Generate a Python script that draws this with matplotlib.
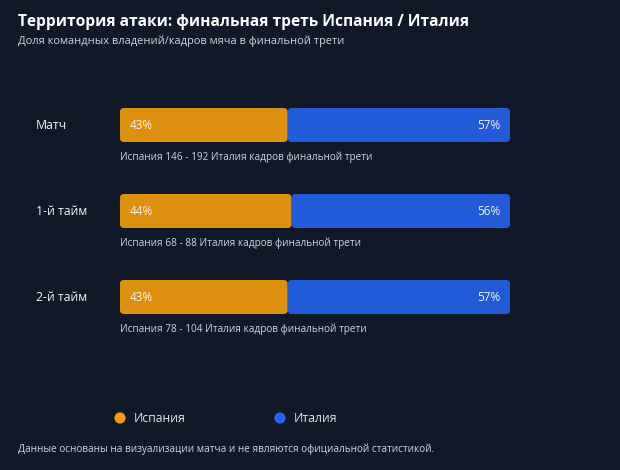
import matplotlib
matplotlib.use("Agg")
import matplotlib.pyplot as plt
from matplotlib.patches import FancyBboxPatch
import matplotlib.transforms as mtransforms

plt.rcParams['font.family'] = ['Open Sans', 'DejaVu Sans']

# data
periods = ['Матч', '1-й тайм', '2-й тайм']
spain_pct = [43, 44, 43]
italy_pct = [57, 56, 57]
spain_frames = [146, 68, 78]
italy_frames = [192, 88, 104]
team_a, team_b = 'Испания', 'Италия'

bg = '#111827'
c_a = '#f59e0b'
c_b = '#2563eb'

W, H = 620, 470
fig = plt.figure(figsize=(W / 100, H / 100), dpi=100, facecolor=bg)

# bar axes in pixel layout: x 120..510, rows centered at 125, 211, 297
row_gap = 86
top = 125 - row_gap / 2
ax = fig.add_axes([120 / W, 1 - (top + 3 * row_gap) / H, 390 / W, 3 * row_gap / H])
ax.set_xlim(0, 100)
ax.set_ylim(2.5, -0.5)
ax.axis('off')
ax.set_facecolor(bg)

bar_h = 34 / row_gap
px_x = 100 / 390   # data units per pixel in x
px_y = 1 / row_gap
rad = 4 * px_x
aspect = px_y / px_x

for i, (p, a, b) in enumerate(zip(periods, spain_pct, italy_pct)):
    for x0, w, col in [(0, a, c_a), (a, b, c_b)]:
        ax.add_patch(FancyBboxPatch((x0, i - bar_h / 2), w, bar_h,
                                    boxstyle=f'round,pad=0,rounding_size={rad}',
                                    mutation_aspect=aspect, fc=col, ec='none', alpha=0.9))
    ax.text(10 * px_x, i, f'{a}%', color='#f3f4f6', fontsize=8.5, va='center', ha='left')
    ax.text(a + b - 10 * px_x, i, f'{b}%', color='#f3f4f6', fontsize=8.5, va='center', ha='right')
    ax.text(0, i + 32 * px_y, f'{team_a} {spain_frames[i]} - {italy_frames[i]} {team_b} кадров финальной трети',
            color='#cbd5e1', fontsize=7.2, va='center', ha='left')

trans = mtransforms.blended_transform_factory(fig.transFigure, ax.transData)
for i, p in enumerate(periods):
    fig.text(36 / W, i, p, transform=trans, color='#f3f4f6', fontsize=8.8, va='center', ha='left')

# titles
fig.text(18 / W, 1 - 22 / H, 'Территория атаки: финальная треть Испания / Италия',
         color='white', fontsize=11.2, fontweight='bold', va='center', ha='left')
fig.text(18 / W, 1 - 41 / H, 'Доля командных владений/кадров мяча в финальной трети',
         color='#cbd5e1', fontsize=7.9, va='center', ha='left')

# legend
lax = fig.add_axes([0, 0, 1, 1], facecolor='none')
lax.set_xlim(0, W)
lax.set_ylim(H, 0)
lax.axis('off')
for x, name, col in [(120, team_a, c_a), (280, team_b, c_b)]:
    lax.scatter([x], [418], s=65, color=col, edgecolors='none')
    lax.text(x + 14, 418, name, color='#e5e7eb', fontsize=8.8, va='center', ha='left')

fig.text(18 / W, 1 - 449 / H, 'Данные основаны на визуализации матча и не являются официальной статистикой.',
         color='#cbd5e1', fontsize=7.2, va='center', ha='left')

fig.savefig('out.png', dpi=100, facecolor=bg)
